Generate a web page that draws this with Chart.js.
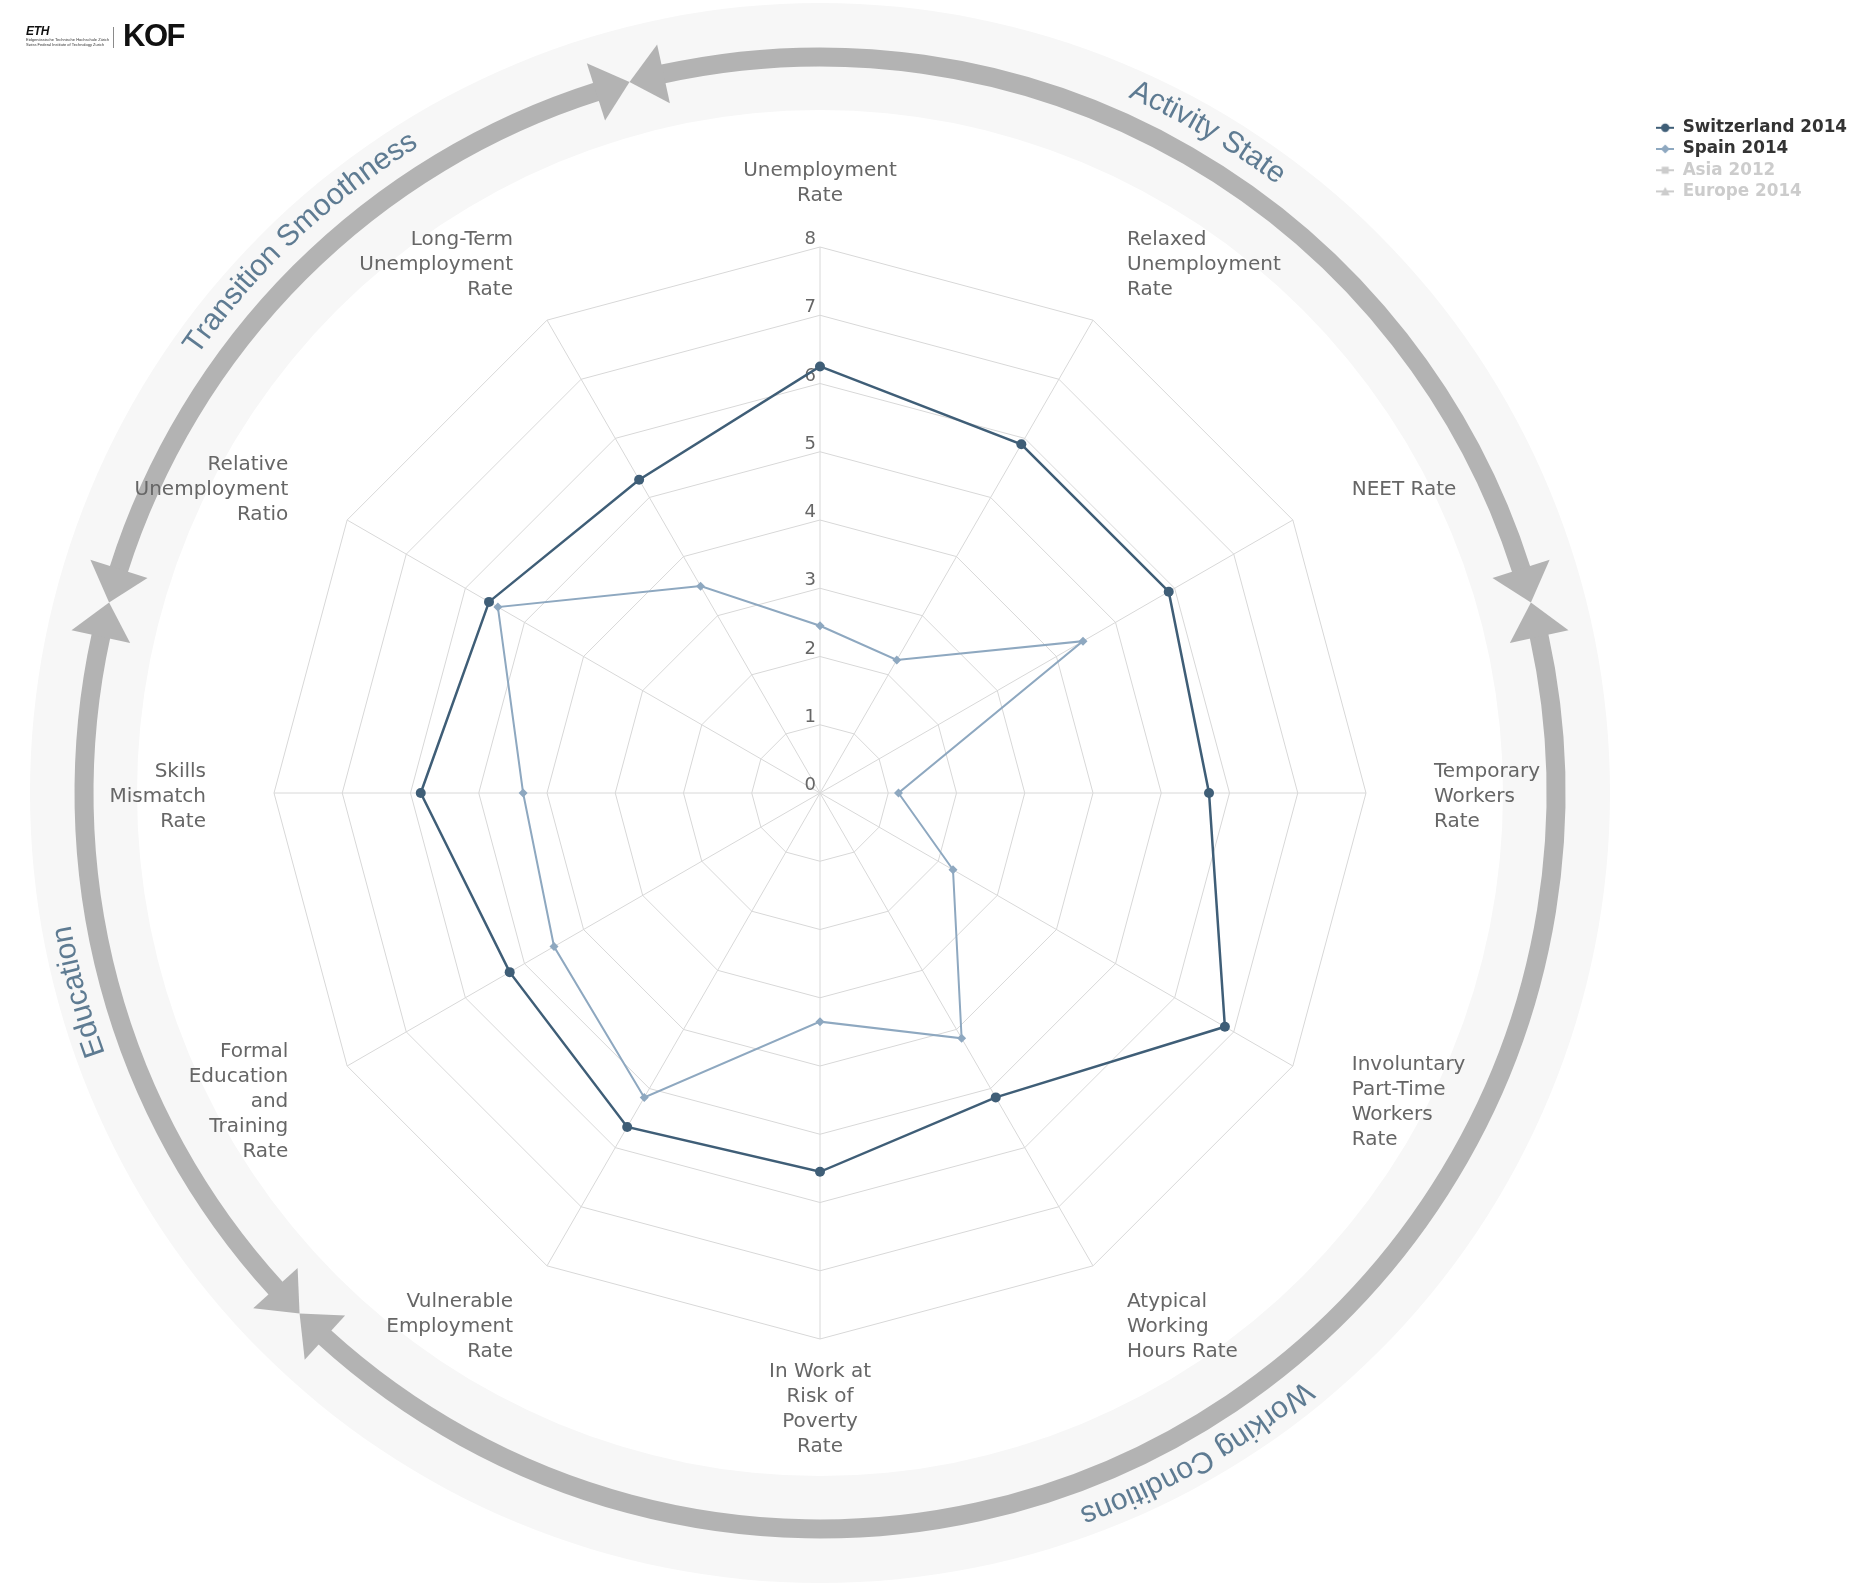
<!DOCTYPE html>
<html>
<head>
<meta charset="utf-8">
<script src="https://cdn.jsdelivr.net/npm/chart.js@4.4.1/dist/chart.umd.min.js"></script>
<style>
  html, body { margin: 0; padding: 0; background: #ffffff; }
  #wrap { position: relative; width: 1860px; height: 1594px; overflow: hidden; }
  #c { position: absolute; left: 0; top: 0; }
  .eth { position: absolute; left: 26px; top: 24px; font: italic bold 12px "Liberation Sans", Arial, sans-serif; color: #111; letter-spacing: -0.3px; }
  .ethsub { position: absolute; left: 26px; top: 38px; font: 4px "Liberation Sans", Arial, sans-serif; line-height: 4.6px; color: #333; white-space: nowrap; }
  .bar { position: absolute; left: 113px; top: 27px; width: 1px; height: 21px; background: #8a8a8a; }
  .kof { position: absolute; left: 123px; top: 18px; font: bold 31px "Liberation Sans", Arial, sans-serif; color: #111; letter-spacing: -1.5px; }
</style>
</head>
<body>
<div id="wrap">
  <canvas id="c" width="1860" height="1594"></canvas>
  <div class="eth">ETH</div>
  <div class="ethsub">Eidgenössische Technische Hochschule Zürich<br>Swiss Federal Institute of Technology Zurich</div>
  <div class="bar"></div>
  <div class="kof">KOF</div>
</div>
<script>
// ---------------- DATA ----------------
const categories = [
  ['Unemployment', 'Rate'],
  ['Relaxed', 'Unemployment', 'Rate'],
  ['NEET Rate'],
  ['Temporary', 'Workers', 'Rate'],
  ['Involuntary', 'Part-Time', 'Workers', 'Rate'],
  ['Atypical', 'Working', 'Hours Rate'],
  ['In Work at', 'Risk of', 'Poverty', 'Rate'],
  ['Vulnerable', 'Employment', 'Rate'],
  ['Formal', 'Education', 'and', 'Training', 'Rate'],
  ['Skills', 'Mismatch', 'Rate'],
  ['Relative', 'Unemployment', 'Ratio'],
  ['Long-Term', 'Unemployment', 'Rate']
];
const seriesNames = ['Switzerland 2014', 'Spain 2014', 'Asia 2012', 'Europe 2014'];
const switzerland2014 = [6.25, 5.9, 5.9, 5.7, 6.85, 5.15, 5.55, 5.65, 5.25, 5.85, 5.6, 5.3];
const spain2014 = [2.45, 2.25, 4.45, 1.15, 2.25, 4.15, 3.35, 5.15, 4.5, 4.35, 5.45, 3.5];
const asia2012 = [];     // hidden in the reference (legend item greyed out)
const europe2014 = [];   // hidden in the reference (legend item greyed out)
const tickLabels = ['0', '1', '2', '3', '4', '5', '6', '7', '8'];
const groupNames = ['Activity State', 'Working Conditions', 'Education', 'Transition Smoothness'];
const groupSizes = [3, 5, 2, 2];

// ---------------- LAYOUT / STYLE ----------------
const CX = 820, CY = 793, RADIUS = 546;
const COL_CH = '#3f5e77';
const COL_ES = '#8ea8c0';
const COL_OFF = '#cccccc';
const titleShiftDeg = [0.4, 0.3, 0, 1.6];

function legendIcon(color, shape) {
  const cv = document.createElement('canvas');
  cv.width = 18; cv.height = 12;
  const g = cv.getContext('2d');
  g.strokeStyle = color; g.fillStyle = color; g.lineWidth = 2;
  g.beginPath(); g.moveTo(0, 6); g.lineTo(18, 6); g.stroke();
  g.beginPath();
  if (shape === 'circle') { g.arc(9, 6, 4.2, 0, Math.PI * 2); }
  else if (shape === 'diamond') { g.moveTo(9, 1.5); g.lineTo(13.5, 6); g.lineTo(9, 10.5); g.lineTo(4.5, 6); g.closePath(); }
  else if (shape === 'square') { g.rect(5.5, 2.5, 7, 7); }
  else { g.moveTo(9, 1.5); g.lineTo(13.5, 10); g.lineTo(4.5, 10); g.closePath(); }
  g.fill();
  return cv;
}
const legendIcons = [
  legendIcon(COL_CH, 'circle'), legendIcon(COL_ES, 'diamond'),
  legendIcon(COL_OFF, 'square'), legendIcon(COL_OFF, 'triangle')
];

// fix the radial scale's center and radius
const fixRadial = {
  id: 'fixRadial',
  beforeLayout(chart) {
    const s = chart.scales.r;
    if (s && !s._fixedCenter) {
      s.setCenterPoint = function () {
        this.xCenter = CX; this.yCenter = CY; this.drawingArea = RADIUS;
      };
      s._fixedCenter = true;
    }
  },
  afterLayout(chart) {
    const s = chart.scales.r;
    const items = s && s._pointLabelItems;
    if (!items) return;
    const n = items.length;
    items.forEach((it, i) => {
      const a = Math.round(i * 360 / n) % 360;
      const h = it.bottom - it.top;
      let dy = 4;
      if (a === 90 || a === 270) dy += 0;
      else if (a > 270 || a < 90) dy += h / 2;
      else dy += -h / 2 - 2;
      it.y += dy; it.top += dy; it.bottom += dy;
    });
  }
};

// background ring, group arrows and group titles
const decoration = {
  id: 'decoration',
  beforeDraw(chart) {
    const s = chart.scales.r;
    const ctx = chart.ctx;
    const cx = s.xCenter, cy = s.yCenter;
    const n = categories.length;
    const step = Math.PI * 2 / n;
    ctx.save();
    // light ring
    ctx.beginPath();
    ctx.arc(cx, cy, 790, 0, Math.PI * 2);
    ctx.arc(cx, cy, 683, 0, Math.PI * 2, true);
    ctx.fillStyle = '#f7f7f7';
    ctx.fill('evenodd');

    const rA = 736, wA = 19, L = 35, W = 30;
    const toCanvas = (t) => t - Math.PI / 2;
    const pt = (r, t) => [cx + r * Math.sin(t), cy - r * Math.cos(t)];
    let start = 0;
    groupSizes.forEach((size, gi) => {
      const t1 = s.getIndexAngle(start) - step / 2;
      const t2 = s.getIndexAngle(start) + (size - 1) * step + step / 2;
      const dA = L / rA;
      ctx.strokeStyle = '#b3b3b3';
      ctx.fillStyle = '#b3b3b3';
      ctx.lineWidth = wA;
      ctx.lineCap = 'butt';
      ctx.beginPath();
      ctx.arc(cx, cy, rA, toCanvas(t1 + dA - 0.002), toCanvas(t2 - dA + 0.002));
      ctx.stroke();
      // arrowheads
      [[t1, t1 + dA], [t2, t2 - dA]].forEach(([tip, base]) => {
        const p0 = pt(rA, tip), p1 = pt(rA + W, base), p2 = pt(rA - W, base);
        ctx.beginPath();
        ctx.moveTo(p0[0], p0[1]); ctx.lineTo(p1[0], p1[1]); ctx.lineTo(p2[0], p2[1]);
        ctx.closePath(); ctx.fill();
      });
      // title along the arc
      const mid = (t1 + t2) / 2 + titleShiftDeg[gi] * Math.PI / 180;
      const rT = 761;
      ctx.font = '30px "Liberation Sans", Arial, sans-serif';
      ctx.fillStyle = '#5e7b92';
      ctx.textAlign = 'center';
      ctx.textBaseline = 'alphabetic';
      const text = groupNames[gi];
      const total = ctx.measureText(text).width;
      let a = mid - total / 2 / rT;
      for (const ch of text) {
        const w = ctx.measureText(ch).width;
        const ac = a + w / 2 / rT;
        const p = pt(rT, ac);
        ctx.save();
        ctx.translate(p[0], p[1]);
        ctx.rotate(ac);
        ctx.fillText(ch, 0, 0);
        ctx.restore();
        a += w / rT;
      }
      start += size;
    });
    ctx.restore();
  },
  beforeDatasetsDraw(chart) {
    const s = chart.scales.r;
    const ctx = chart.ctx;
    ctx.save();
    ctx.font = '18px "DejaVu Sans", sans-serif';
    ctx.fillStyle = '#666666';
    ctx.textAlign = 'right';
    ctx.textBaseline = 'alphabetic';
    s.ticks.forEach((t, i) => {
      const d = s.getDistanceFromCenterForValue(t.value);
      ctx.fillText(tickLabels[i] !== undefined ? tickLabels[i] : String(t.value), s.xCenter - 4, s.yCenter - d - 3);
    });
    ctx.restore();
  }
};

const dataSeries = [switzerland2014, spain2014, asia2012, europe2014];
const seriesColors = [COL_CH, COL_ES, COL_OFF, COL_OFF];
const seriesPoints = ['circle', 'rectRot', 'rect', 'triangle'];
const seriesHidden = [false, false, true, true];

new Chart(document.getElementById('c'), {
  type: 'radar',
  data: {
    labels: categories,
    datasets: dataSeries.map((d, i) => ({
      label: seriesNames[i],
      data: d,
      hidden: seriesHidden[i],
      borderColor: seriesColors[i],
      backgroundColor: seriesColors[i],
      pointBackgroundColor: seriesColors[i],
      pointBorderColor: seriesColors[i],
      borderWidth: i === 0 ? 2.5 : 2,
      pointStyle: seriesPoints[i],
      pointRadius: i === 0 ? 5 : 4.5,
      pointBorderWidth: 0,
      fill: false,
      clip: false
    }))
  },
  options: {
    responsive: false,
    devicePixelRatio: 1,
    animation: false,
    layout: { padding: { top: 115, right: 3, left: 0, bottom: 0 } },
    scales: {
      r: {
        min: 0, max: 8,
        ticks: { display: false, stepSize: 1, callback: (v, i) => tickLabels[i] },
        grid: { color: '#d8d8d8', lineWidth: 1, circular: false },
        angleLines: { color: '#d8d8d8', lineWidth: 1 },
        pointLabels: {
          display: true,
          padding: 68,
          color: '#666666',
          font: { family: 'DejaVu Sans', size: 20, lineHeight: 1.25 }
        }
      }
    },
    plugins: {
      tooltip: { enabled: false },
      legend: {
        position: 'right',
        align: 'start',
        labels: {
          usePointStyle: true,
          pointStyleWidth: 18,
          boxHeight: 12,
          padding: 4.4,
          font: { family: 'DejaVu Sans', size: 16.8, weight: 'bold' },
          generateLabels: (chart) => chart.data.datasets.map((ds, i) => ({
            text: ds.label,
            fillStyle: seriesColors[i],
            strokeStyle: seriesColors[i],
            lineWidth: 0,
            pointStyle: legendIcons[i],
            hidden: false,
            fontColor: seriesHidden[i] ? COL_OFF : '#333333',
            datasetIndex: i
          }))
        }
      }
    }
  },
  plugins: [fixRadial, decoration]
});
</script>
</body>
</html>
